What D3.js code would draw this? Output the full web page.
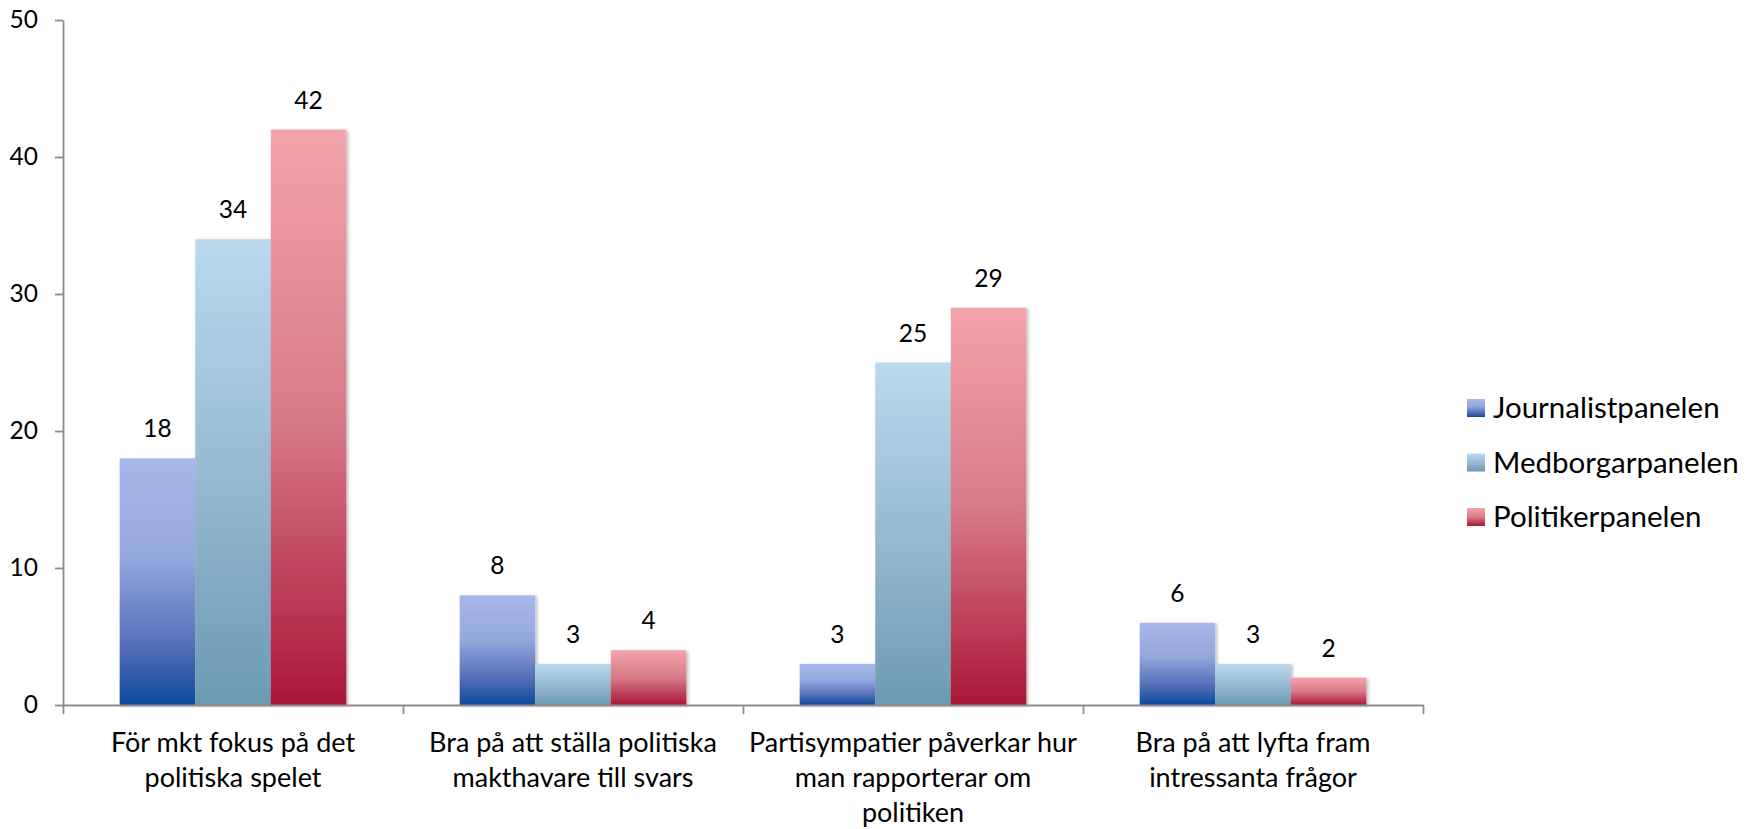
<!DOCTYPE html>
<html>
<head>
<meta charset="utf-8">
<script src="https://cdn.jsdelivr.net/npm/d3@7"></script>
<style>
  body { margin: 0; background: #fff; }
  svg text { font-family: Lato, "Noto Sans", sans-serif; fill: #000; }
</style>
</head>
<body>
<svg id="chart"></svg>
<script>
const categories = [
  "För mkt fokus på det\npolitiska spelet",
  "Bra på att ställa politiska\nmakthavare till svars",
  "Partisympatier påverkar hur\nman rapporterar om\npolitiken",
  "Bra på att lyfta fram\nintressanta frågor"
];
const seriesNames = ["Journalistpanelen", "Medborgarpanelen", "Politikerpanelen"];
const journalistpanelen = [18, 8, 3, 6];
const medborgarpanelen = [34, 3, 25, 3];
const politikerpanelen = [42, 4, 29, 2];
const yTicks = [0, 10, 20, 30, 40, 50];

const seriesValues = [journalistpanelen, medborgarpanelen, politikerpanelen];

const width = 1748;
const height = 829;
const plotLeft = 63, plotRight = 1423, plotTop = 20, plotBottom = 705;
const numberSize = 24.5; // tick and value labels
const catSize = 27;      // category labels
const legendSize = 29.5;

const svg = d3.select("#chart").attr("width", width).attr("height", height);

// gradients, top light -> bottom dark, like the excel fill
const gradStops = [
  [["0%", "#a6b7e8"], ["40%", "#95a8de"], ["75%", "#5670b8"], ["100%", "#0c4a9c"]],
  [["0%", "#bad9ef"], ["50%", "#97bad0"], ["100%", "#6c99b3"]],
  [["0%", "#f4a3ab"], ["50%", "#d77b87"], ["100%", "#aa1537"]]
];
const defs = svg.append("defs");
gradStops.forEach((stops, i) => {
  const g = defs.append("linearGradient")
    .attr("id", "grad" + i)
    .attr("x1", 0).attr("y1", 0).attr("x2", 0).attr("y2", 1);
  stops.forEach((s) => g.append("stop").attr("offset", s[0]).attr("stop-color", s[1]));
});
defs.append("filter").attr("id", "shadow")
  .attr("x", "-10%").attr("y", "-10%").attr("width", "130%").attr("height", "130%")
  .append("feDropShadow")
  .attr("dx", 2).attr("dy", 1).attr("stdDeviation", 1.5)
  .attr("flood-color", "#000").attr("flood-opacity", 0.25);

const x0 = d3.scaleBand().domain(categories).range([plotLeft, plotRight]);
const x1 = d3.scaleBand().domain(seriesNames).range([0, x0.bandwidth()])
  .paddingInner(0).paddingOuter(0.75);
const y = d3.scaleLinear().domain([0, 50]).range([plotBottom, plotTop]);

// bars
const groups = svg.selectAll("g.group")
  .data(categories)
  .enter()
  .append("g")
  .attr("class", "group")
  .attr("transform", (d) => "translate(" + x0(d) + ",0)");

groups.selectAll("rect")
  .data((d, ci) => seriesNames.map((s, si) => ({ s: s, si: si, v: seriesValues[si][ci] })))
  .enter()
  .append("rect")
  .attr("x", (d) => x1(d.s))
  .attr("y", (d) => y(d.v))
  .attr("width", x1.bandwidth())
  .attr("height", (d) => plotBottom - y(d.v))
  .attr("fill", (d) => "url(#grad" + d.si + ")")
  .attr("filter", "url(#shadow)");

groups.selectAll("text.value")
  .data((d, ci) => seriesNames.map((s, si) => ({ s: s, v: seriesValues[si][ci] })))
  .enter()
  .append("text")
  .attr("class", "value")
  .attr("x", (d) => x1(d.s) + x1.bandwidth() / 2)
  .attr("y", (d) => y(d.v) - 21)
  .attr("text-anchor", "middle")
  .style("font-size", numberSize + "px")
  .text((d) => d.v);

// y axis
const yAxis = d3.axisLeft(y).tickValues(yTicks).tickSize(8).tickPadding(17).tickSizeOuter(0);
const yg = svg.append("g").attr("transform", "translate(" + plotLeft + ",0)").call(yAxis);
yg.selectAll("path, line").attr("stroke", "#8c8c8c").attr("stroke-width", 1.8);
yg.selectAll("text").style("font-size", numberSize + "px").attr("font-family", null);

// x axis with boundary ticks between categories
const xb = d3.scaleLinear().domain([0, categories.length]).range([plotLeft, plotRight]);
const xAxis = d3.axisBottom(xb).ticks(categories.length).tickSize(9).tickSizeOuter(0).tickFormat("");
const xg = svg.append("g").attr("transform", "translate(0," + plotBottom + ")").call(xAxis);
xg.selectAll("path, line").attr("stroke", "#8c8c8c").attr("stroke-width", 1.8);

// category labels
svg.selectAll("text.cat")
  .data(categories)
  .enter()
  .append("text")
  .attr("class", "cat")
  .attr("text-anchor", "middle")
  .style("font-size", catSize + "px")
  .each(function (d) {
    const t = d3.select(this);
    d.split("\n").forEach((line, i) => {
      t.append("tspan")
        .attr("x", x0(d) + x0.bandwidth() / 2)
        .attr("y", 752 + i * 35)
        .text(line);
    });
  });

// legend
const legend = svg.append("g").attr("transform", "translate(1467,408)");
const items = legend.selectAll("g")
  .data(seriesNames)
  .enter()
  .append("g")
  .attr("transform", (d, i) => "translate(0," + i * 54.5 + ")");
items.append("rect")
  .attr("x", 0).attr("y", -9)
  .attr("width", 18).attr("height", 18)
  .attr("fill", (d, i) => "url(#grad" + i + ")");
items.append("text")
  .attr("x", 26)
  .attr("y", 10)
  .style("font-size", legendSize + "px")
  .text((d) => d);
</script>
</body>
</html>
